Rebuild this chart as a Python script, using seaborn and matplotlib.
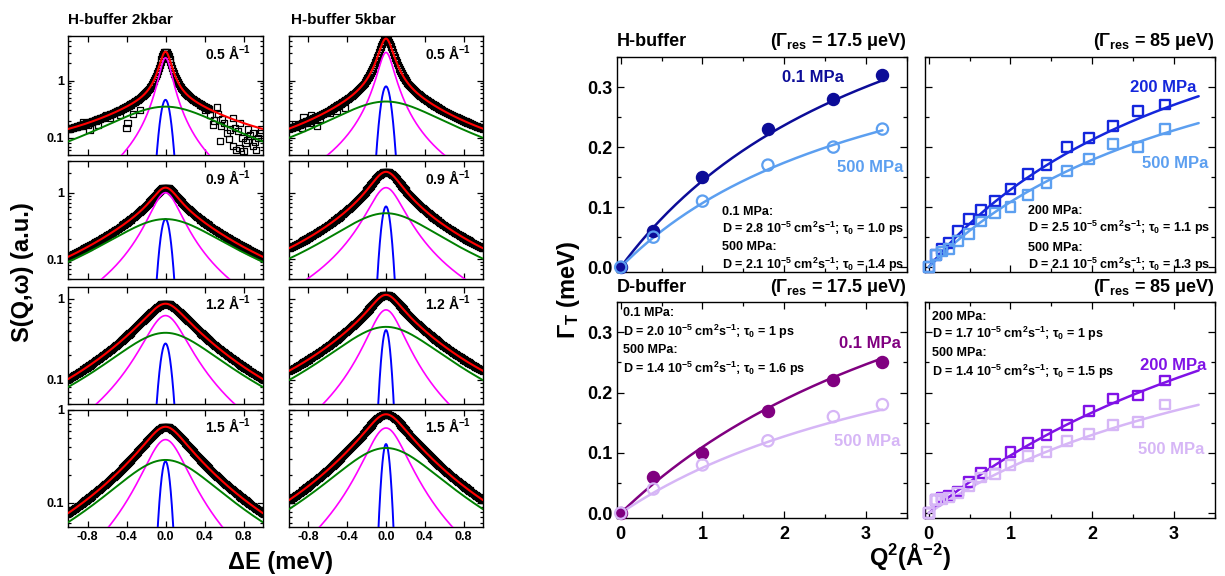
import numpy as np
import matplotlib
matplotlib.use('Agg')
import matplotlib.pyplot as plt
import seaborn as sns
from matplotlib.ticker import LogLocator, NullFormatter, MultipleLocator

# ---------------- data ----------------
q_labels = ['0.5', '0.9', '1.2', '1.5']
column_titles = ['H-buffer 2kbar', 'H-buffer 5kbar']
row_ylims = [(0.05, 6.0), (0.05, 3.0), (0.05, 1.4), (0.055, 1.0)]

# fitted components, 2 kbar column (peak height / half width in meV)
narrow_amp_2k = [2.5, 1.0, 0.62, 0.48]
narrow_hwhm_2k = [0.064, 0.15, 0.21, 0.21]
broad_amp_2k = [0.35, 0.40, 0.38, 0.29]
broad_hwhm_2k = [0.57, 0.54, 0.52, 0.52]
res_amp_2k = [0.46, 0.40, 0.28, 0.28]
res_sigma_2k = [0.043, 0.044, 0.049, 0.044]
total_peak_2k = [3.2, 1.19, 0.87, 0.66]
background_2k = [0.045, 0.0, 0.0, 0.0]
data_Emax_2k = [0.45, 1.0, 1.0, 1.0]

# fitted components, 5 kbar column
narrow_amp_5k = [3.1, 1.19, 0.73, 0.64]
narrow_hwhm_5k = [0.077, 0.17, 0.176, 0.21]
broad_amp_5k = [0.43, 0.49, 0.45, 0.39]
broad_hwhm_5k = [0.55, 0.51, 0.53, 0.53]
res_amp_5k = [0.79, 0.62, 0.41, 0.43]
res_sigma_5k = [0.043, 0.040, 0.039, 0.038]
total_peak_5k = [5.4, 2.06, 1.12, 0.90]
background_5k = [0.015, 0.0, 0.01, 0.0]
data_Emax_5k = [1.0, 1.0, 1.0, 1.0]

# scattered data points in the noisy tails (0.5 A^-1 panels)
tail_E_2k = [-0.85, -0.85, -0.80, -0.78, -0.71, -0.69, -0.64, -0.61, -0.57, -0.50, -0.47, -0.40, -0.39,
             -0.33, -0.26, 0.41, 0.46, 0.49, 0.525, 0.56, 0.57, 0.576, 0.63, 0.69, 0.69, 0.71, 0.72, 0.76,
             0.76, 0.80, 0.82, 0.85, 0.87, 0.90, 0.90, 0.93, 0.95, 0.98, 0.50, 0.60, 0.66, 0.74, 0.79,
             0.84, 0.92, 0.97, 0.54, 0.65]
tail_S_2k = [0.19, 0.16, 0.17, 0.14, 0.20, 0.17, 0.22, 0.25, 0.22, 0.29, 0.25, 0.15, 0.18,
             0.26, 0.31, 0.31, 0.25, 0.17, 0.35, 0.087, 0.16, 0.21, 0.12, 0.22, 0.071, 0.15, 0.062, 0.18,
             0.066, 0.058, 0.083, 0.14, 0.11, 0.071, 0.12, 0.062, 0.10, 0.14, 0.20, 0.18, 0.14, 0.13, 0.10,
             0.09, 0.085, 0.12, 0.26, 0.095]
tail_E_5k = [-0.94, -0.87, -0.85, -0.78, -0.77, -0.71, -0.68, -0.58, -0.51, -0.42]
tail_S_5k = [0.17, 0.15, 0.23, 0.18, 0.25, 0.16, 0.21, 0.27, 0.29, 0.33]

# right-hand panels: Q^2 (A^-2) and Gamma_T (meV)
q2_hi = [0, 0.4, 1.0, 1.8, 2.6, 3.2]
gamma_H_01 = [0, 0.06, 0.15, 0.23, 0.28, 0.32]
gamma_H_500 = [0, 0.05, 0.11, 0.17, 0.20, 0.23]
gamma_D_01 = [0, 0.06, 0.10, 0.17, 0.22, 0.25]
gamma_D_500 = [0, 0.04, 0.08, 0.12, 0.16, 0.18]

q2_lo = [0, 0.09, 0.16, 0.25, 0.36, 0.49, 0.64, 0.81, 1.0, 1.21, 1.44, 1.69, 1.96, 2.25, 2.56, 2.89]
gamma_H_200 = [0, 0.020, 0.030, 0.040, 0.060, 0.080, 0.095, 0.110, 0.130, 0.155, 0.170, 0.200, 0.215,
               0.235, 0.260, 0.271]
gamma_H_500b = [0, 0.020, 0.026, 0.030, 0.044, 0.055, 0.076, 0.090, 0.100, 0.120, 0.140, 0.160, 0.180,
                0.205, 0.200, 0.230]
gamma_D_200 = [0, 0.022, 0.026, 0.029, 0.036, 0.052, 0.067, 0.081, 0.101, 0.116, 0.130, 0.146, 0.170,
               0.190, 0.195, 0.220]
gamma_D_500b = [0, 0.022, 0.023, 0.026, 0.034, 0.045, 0.059, 0.065, 0.080, 0.095, 0.101, 0.120, 0.131,
                0.146, 0.151, 0.180]

# jump-diffusion fit parameters printed in the figure: D (1e-5 cm^2/s), tau0 (ps)
D_H17, tau_H17, tau_H17_txt = [2.8, 2.1], [1.0, 1.4], ['1.0', '1.4']
D_H85, tau_H85, tau_H85_txt = [2.5, 2.1], [1.1, 1.3], ['1.1', '1.3']
D_D17, tau_D17, tau_D17_txt = [2.0, 1.4], [1.0, 1.6], ['1', '1.6']
D_D85, tau_D85, tau_D85_txt = [1.7, 1.4], [1.0, 1.5], ['1', '1.5']
hbar = 0.6582  # meV ps

# ---------------- style ----------------
sns.set_theme(style='ticks')
plt.rcParams.update({
    'font.family': ['Liberation Sans', 'DejaVu Sans'],
    'font.weight': 'bold',
    'axes.labelweight': 'bold',
    'mathtext.fontset': 'custom',
    'mathtext.rm': 'Liberation Sans:bold',
    'mathtext.it': 'Liberation Sans:bold',
    'mathtext.bf': 'Liberation Sans:bold',
    'mathtext.sf': 'Liberation Sans:bold',
    'axes.linewidth': 1.0,
    'axes.edgecolor': 'black',
    'xtick.color': 'black',
    'ytick.color': 'black',
    'text.color': 'black',
})

W, H = 1225, 576
fig = plt.figure(figsize=(W / 100, H / 100), dpi=100)


def rect(l, t, r, b):
    return [l / W, 1 - b / H, (r - l) / W, (b - t) / H]


def ftext(x, y, s, **kw):
    fig.text(x / W, 1 - y / H, s, **kw)


# ---------------- left block: S(Q,w) ----------------
col_x = [(68, 263), (289, 483)]
row_y = [(36, 155), (161, 279), (287, 404), (410, 527)]
params = [
    dict(na=narrow_amp_2k, nw=narrow_hwhm_2k, ba=broad_amp_2k, bw=broad_hwhm_2k,
         ra=res_amp_2k, rs=res_sigma_2k, tp=total_peak_2k, bg=background_2k,
         emax=data_Emax_2k, tE=tail_E_2k, tS=tail_S_2k),
    dict(na=narrow_amp_5k, nw=narrow_hwhm_5k, ba=broad_amp_5k, bw=broad_hwhm_5k,
         ra=res_amp_5k, rs=res_sigma_5k, tp=total_peak_5k, bg=background_5k,
         emax=data_Emax_5k, tE=tail_E_5k, tS=tail_S_5k),
]
E = np.linspace(-1.0, 1.0, 1601)
E_grid = np.linspace(-1.0, 1.0, 201)


def components(x, p, r):
    m = p['na'][r] / (1 + (x / p['nw'][r]) ** 2)
    g = p['ba'][r] / (1 + (x / p['bw'][r]) ** 2)
    b = np.maximum(p['ra'][r] * np.exp(-x ** 2 / (2 * p['rs'][r] ** 2)), 1e-6)
    cf = (p['tp'][r] - p['ba'][r] - p['bg'][r]) / p['na'][r]
    tot = cf * m + g + p['bg'][r]
    return m, g, b, tot


for c in range(2):
    p = params[c]
    for r in range(4):
        ax = fig.add_axes(rect(col_x[c][0], row_y[r][0], col_x[c][1], row_y[r][1]))
        ax.set_yscale('log')
        m, g, b, tot = components(E, p, r)
        E_data = E_grid[E_grid <= p['emax'][r] + 1e-9]
        _, _, _, dat = components(E_data, p, r)
        sns.scatterplot(x=E_data, y=dat, ax=ax, marker='s', s=20, facecolor='none',
                        edgecolor='black', linewidth=0.9, legend=False, zorder=2)
        if r == 0:
            sns.scatterplot(x=p['tE'], y=p['tS'], ax=ax, marker='s', s=20, facecolor='none',
                            edgecolor='black', linewidth=0.9, legend=False, zorder=2)
        sns.lineplot(x=E, y=m, ax=ax, color='#ff00ff', lw=1.2, zorder=3)
        sns.lineplot(x=E, y=b, ax=ax, color='#0000ff', lw=1.4, zorder=3)
        sns.lineplot(x=E, y=g, ax=ax, color='#008000', lw=1.4, zorder=4)
        sns.lineplot(x=E, y=tot, ax=ax, color='#ff0000', lw=1.5, zorder=5)
        ax.set_xlim(-1.0, 1.0)
        ax.set_ylim(*row_ylims[r])
        ax.set_xticks([-0.8, -0.4, 0.0, 0.4, 0.8])
        ax.set_yticks([0.1, 1.0])
        ax.yaxis.set_minor_locator(LogLocator(base=10, subs=np.arange(2, 10)))
        ax.yaxis.set_minor_formatter(NullFormatter())
        if r == 3:
            ax.set_xticklabels(['-0.8', '-0.4', '0.0', '0.4', '0.8'])
        else:
            ax.set_xticklabels([])
        if c == 0:
            ax.set_yticklabels(['0.1', '1'])
        else:
            ax.set_yticklabels([])
        ax.tick_params(which='both', direction='in', top=True, right=True, labelsize=9, pad=3, width=0.9)
        ax.tick_params(which='major', length=4)
        ax.tick_params(which='minor', length=2)
        ax.set_xlabel('')
        ax.set_ylabel('')
        for sp in ax.spines.values():
            sp.set_linewidth(1.0)
        ax.text(0.82, 0.86, q_labels[r] + ' Å$^{-1}$', transform=ax.transAxes, ha='center',
                va='center', fontsize=10, fontweight='bold')

ftext(68, 20, column_titles[0], ha='left', va='center', fontsize=11, fontweight='bold')
ftext(291, 20, column_titles[1], ha='left', va='center', fontsize=11, fontweight='bold')
ftext(22, 272, 'S(Q,ω) (a.u.)', ha='center', va='center', rotation=90, fontsize=17, fontweight='bold')
ftext(280, 563, 'ΔE (meV)', ha='center', va='center', fontsize=17, fontweight='bold')

# ---------------- right block: Gamma_T vs Q^2 ----------------
navy, lightblue, blue = '#0c0c98', '#5c9ff0', '#1426dc'
purple, lavender, violet = '#800080', '#d6b6f6', '#8012e6'


def gamma_fit(q2, D, tau):
    d = D * 0.1 * q2  # A^2/ps * A^-2
    return hbar * d / (1 + d * tau)


panels = [
    dict(box=(617, 57, 907, 272), q2=q2_hi, ys=[gamma_H_01, gamma_H_500], marker='o',
         filled=[True, False], colors=[navy, lightblue], D=D_H17, tau=tau_H17, tau_txt=tau_H17_txt,
         qmax=3.2, names=['0.1 MPa', '500 MPa'], name_pos=[(813, 77), (870, 167)],
         block=(722, [212, 229, 247, 265]), title='H-buffer', res='17.5', ylab=True, xlab=False),
    dict(box=(925, 57, 1215, 272), q2=q2_lo, ys=[gamma_H_200, gamma_H_500b], marker='s',
         filled=[False, False], colors=[blue, lightblue], D=D_H85, tau=tau_H85, tau_txt=tau_H85_txt,
         qmax=3.3, names=['200 MPa', '500 MPa'], name_pos=[(1163, 88), (1175, 164)],
         block=(1028, [211, 228, 248, 265]), title=None, res='85', ylab=False, xlab=False),
    dict(box=(617, 302, 907, 518), q2=q2_hi, ys=[gamma_D_01, gamma_D_500], marker='o',
         filled=[True, False], colors=[purple, lavender], D=D_D17, tau=tau_D17, tau_txt=tau_D17_txt,
         qmax=3.2, names=['0.1 MPa', '500 MPa'], name_pos=[(870, 343), (867, 442)],
         block=(623, [313, 332, 350, 369]), title='D-buffer', res='17.5', ylab=True, xlab=True),
    dict(box=(925, 302, 1215, 518), q2=q2_lo, ys=[gamma_D_200, gamma_D_500b], marker='s',
         filled=[False, False], colors=[violet, lavender], D=D_D85, tau=tau_D85, tau_txt=tau_D85_txt,
         qmax=3.3, names=['200 MPa', '500 MPa'], name_pos=[(1173, 366), (1171, 450)],
         block=(932, [317, 334, 353, 372]), title=None, res='85', ylab=False, xlab=True),
]

for pn in panels:
    l, t, rr, bb = pn['box']
    ax = fig.add_axes(rect(l, t, rr, bb))
    qq = np.linspace(0, pn['qmax'], 200)
    for k in range(2):
        col = pn['colors'][k]
        sns.lineplot(x=qq, y=gamma_fit(qq, pn['D'][k], pn['tau'][k]), ax=ax, color=col, lw=1.8, zorder=3)
    for k in range(2):
        col = pn['colors'][k]
        if pn['marker'] == 'o':
            if pn['filled'][k]:
                sns.scatterplot(x=pn['q2'], y=pn['ys'][k], ax=ax, marker='o', s=75, color=col,
                                edgecolor=col, linewidth=1.0, legend=False, zorder=4, clip_on=False)
            else:
                sns.scatterplot(x=pn['q2'], y=pn['ys'][k], ax=ax, marker='o', s=66, facecolor='none',
                                edgecolor=col, linewidth=1.6, legend=False, zorder=4, clip_on=False)
        else:
            sns.scatterplot(x=pn['q2'], y=pn['ys'][k], ax=ax, marker='s', s=50, facecolor='none',
                            edgecolor=col, linewidth=1.7, legend=False, zorder=4, clip_on=False)
    ax.set_xlim(-0.045, 3.5)
    ax.set_ylim(-0.008, 0.35)
    ax.xaxis.set_minor_locator(MultipleLocator(0.5))
    ax.yaxis.set_minor_locator(MultipleLocator(0.05))
    ax.set_xticks([0, 1, 2, 3])
    ax.set_yticks([0.0, 0.1, 0.2, 0.3])
    ax.set_xticklabels(['0', '1', '2', '3'] if pn['xlab'] else [])
    ax.set_yticklabels(['0.0', '0.1', '0.2', '0.3'] if pn['ylab'] else [])
    ax.tick_params(which='both', direction='in', top=True, right=True, labelsize=13, width=0.9)
    ax.tick_params(axis='x', pad=6)
    ax.tick_params(axis='y', pad=3)
    ax.tick_params(which='major', length=5)
    ax.tick_params(which='minor', length=3)
    ax.set_xlabel('')
    ax.set_ylabel('')
    # series names
    for k in range(2):
        x0, y0 = pn['name_pos'][k]
        ftext(x0, y0, pn['names'][k], ha='center', va='center', fontsize=12, fontweight='bold',
              color=pn['colors'][k])
    # fit parameter block
    bx, bys = pn['block']
    lines = []
    for k in range(2):
        lines.append(pn['names'][k] + ':')
        lines.append('D = %.1f 10$^{-5}$ cm$^{2}$s$^{-1}$; $\\tau_{0}$ = %s ps' % (pn['D'][k], pn['tau_txt'][k]))
    for s_, y_ in zip(lines, bys):
        ftext(bx, y_, s_, ha='left', va='center', fontsize=9, fontweight='bold')
    # titles
    if pn['title']:
        ftext(l, t - 15, pn['title'], ha='left', va='center', fontsize=13, fontweight='bold')
    ftext(rr, t - 15, '($\\Gamma_{res}$ = %s μeV)' % pn['res'], ha='right', va='center', fontsize=13,
          fontweight='bold')

ftext(568, 290, '$\\Gamma_{T}$ (meV)', ha='center', va='center', rotation=90, fontsize=17, fontweight='bold')
ftext(910, 557, 'Q$^{2}$(Å$^{-2}$)', ha='center', va='center', fontsize=17, fontweight='bold')

fig.savefig('out.png', dpi=100)
